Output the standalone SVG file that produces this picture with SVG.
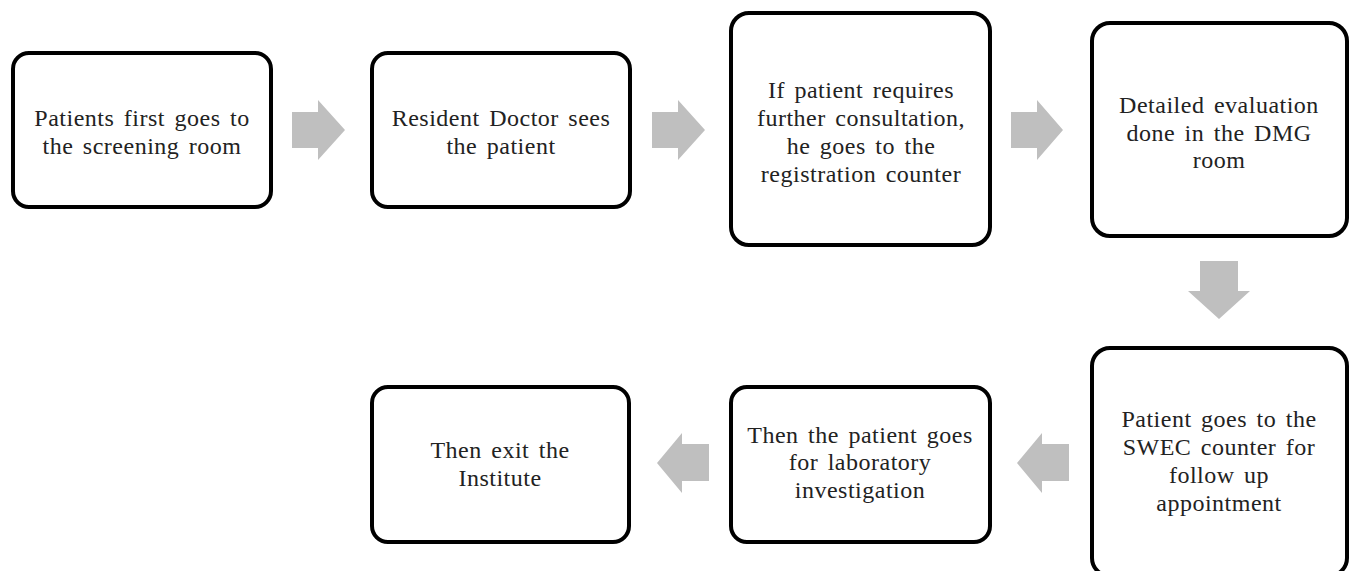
<svg xmlns="http://www.w3.org/2000/svg" width="1351" height="571" viewBox="0 0 1351 571">
<style>
.box{fill:#fff;stroke:#000;stroke-width:4}
.arr{fill:#bfbfbf}
.t{font-family:'Liberation Serif','Times New Roman',serif;font-size:24px;fill:#222;text-anchor:middle;letter-spacing:0.5px;word-spacing:3px}
</style>
<rect width="1351" height="571" fill="#fff"/>
<g id="connectors">
<polygon class="arr" points="292,112 318,112 318,100 345,130 318,160 318,148 292,148"/>
<polygon class="arr" points="652,112 678,112 678,100 705,130 678,160 678,148 652,148"/>
<polygon class="arr" points="1011,112 1037,112 1037,100 1063,130 1037,160 1037,148 1011,148"/>
<polygon class="arr" points="1200,261 1238,261 1238,291 1250,291 1219,319 1188,291 1200,291"/>
<polygon class="arr" points="1069,444 1042,444 1042,433 1017,463 1042,493 1042,481 1069,481"/>
<polygon class="arr" points="709,444 682,444 682,433 657,463 682,493 682,481 709,481"/>
</g>
<g id="n1">
<rect class="box" x="13" y="53" width="258" height="154" rx="16"/>
<text class="t" x="142" y="126">Patients first goes to</text>
<text class="t" x="142" y="154">the screening room</text>
</g>
<g id="n2">
<rect class="box" x="372" y="53" width="258" height="154" rx="16"/>
<text class="t" x="501" y="126">Resident  Doctor sees</text>
<text class="t" x="501" y="154">the patient</text>
</g>
<g id="n3">
<rect class="box" x="731" y="13" width="259" height="232" rx="18"/>
<text class="t" x="861" y="98">If patient requires</text>
<text class="t" x="861" y="126">further  consultation,</text>
<text class="t" x="861" y="154">he goes to the</text>
<text class="t" x="861" y="182">registration  counter</text>
</g>
<g id="n4">
<rect class="box" x="1092" y="23" width="255" height="213" rx="18"/>
<text class="t" x="1219" y="113">Detailed  evaluation</text>
<text class="t" x="1219" y="141">done in the DMG</text>
<text class="t" x="1219" y="168">room</text>
</g>
<g id="n5">
<rect class="box" x="1092" y="348" width="255" height="228" rx="18"/>
<text class="t" x="1219" y="427">Patient goes to the</text>
<text class="t" x="1219" y="455">SWEC counter for</text>
<text class="t" x="1219" y="483">follow  up</text>
<text class="t" x="1219" y="511">appointment</text>
</g>
<g id="n6">
<rect class="box" x="731" y="387" width="259" height="155" rx="16"/>
<text class="t" x="860" y="443">Then the patient  goes</text>
<text class="t" x="860" y="470">for laboratory</text>
<text class="t" x="860" y="498">investigation</text>
</g>
<g id="n7">
<rect class="box" x="372" y="387" width="257" height="155" rx="16"/>
<text class="t" x="500" y="458">Then exit the</text>
<text class="t" x="500" y="486">Institute</text>
</g>
</svg>
